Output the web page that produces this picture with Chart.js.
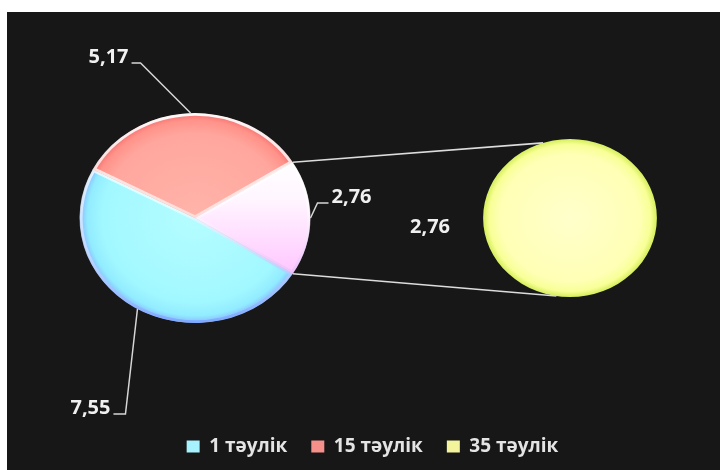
<!DOCTYPE html>
<html>
<head>
<meta charset="utf-8">
<script src="https://cdn.jsdelivr.net/npm/chart.js@4"></script>
<style>
  html, body { margin: 0; padding: 0; background: #fff; }
  #wrap { position: relative; width: 720px; height: 470px; overflow: hidden; }
  #panel { position: absolute; left: 7px; top: 12px; right: 0; bottom: 0; background: #171717; }
  canvas { position: absolute; left: 0; top: 0; }
</style>
</head>
<body>
<div id="wrap">
  <div id="panel"></div>
  <canvas id="pieMain" width="720" height="470"></canvas>
  <canvas id="pieSplit" width="720" height="470"></canvas>
</div>
<script>
const categories = ['1 тәулік', '15 тәулік', '35 тәулік'];
const mainValues = [7.55, 5.17];   // 1 тәулік, 15 тәулік
const splitValues = [2.76];        // 35 тәулік, shown in the small pie

const legendColors = ['#a6f2ff', '#f6908a', '#f4f49c'];
const rimColors = ['#7ea8ff', '#ee6262', '#d88ef2'];
const FONT = '"Open Sans", "Noto Sans", "DejaVu Sans", sans-serif';

// where each pie sits on the page; pies are drawn a bit wider than tall
const MAIN_PLACE = { x: 195, y: 218, stretch: 1.1 };
const SPLIT_PLACE = { x: 570, y: 218, stretch: 1.1 };

const otherTotal = splitValues.reduce((a, b) => a + b, 0);
const mainData = [...mainValues, otherTotal];
const total = mainData.reduce((a, b) => a + b, 0);

function fmt(v) {
    return v.toFixed(2).replace('.', ',');
}

function toPage(place, arc, angle, r) {
    return {
        x: place.x + Math.cos(angle) * r * place.stretch,
        y: place.y + Math.sin(angle) * r
    };
}

// move the pie from the chart area centre to its spot and stretch it sideways
const placePie = {
    id: 'placePie',
    beforeDatasetsDraw(chart, args, opts) {
        const arc = chart.getDatasetMeta(0).data[0];
        const ctx = chart.ctx;
        ctx.save();
        ctx.translate(opts.x, opts.y);
        ctx.scale(opts.stretch, 1);
        ctx.translate(-arc.x, -arc.y);
    },
    afterDatasetsDraw(chart) {
        chart.ctx.restore();
    }
};

function areaCentre(chart) {
    const a = chart.chartArea;
    return { cx: (a.left + a.right) / 2, cy: (a.top + a.bottom) / 2 };
}

function radial(chart, r, stops) {
    const { cx, cy } = areaCentre(chart);
    const g = chart.ctx.createRadialGradient(cx, cy, 0, cx, cy, r);
    stops.forEach(([p, col]) => g.addColorStop(p, col));
    return g;
}

function mainFill(c) {
    const chart = c.chart;
    if (!chart.chartArea) return legendColors[c.dataIndex];
    const r = 105;
    if (c.dataIndex === 0) {
        return radial(chart, r, [[0, '#b4fdff'], [0.8, '#a2f8ff'], [0.93, '#92ecff'], [1, '#8ab8ff']]);
    }
    if (c.dataIndex === 1) {
        return radial(chart, r, [[0, '#ffb4aa'], [0.8, '#ffa79e'], [0.93, '#ff938a'], [1, '#f47070']]);
    }
    const { cx, cy } = areaCentre(chart);
    const g = chart.ctx.createLinearGradient(cx, cy - r * 0.55, cx, cy + r * 0.5);
    g.addColorStop(0, '#ffffff');
    g.addColorStop(0.35, '#fff6ff');
    g.addColorStop(1, '#ffc8ff');
    return g;
}

// light bevel: white along the upper edges, fading into the slice rim colour
function mainEdge(c) {
    const chart = c.chart;
    if (!chart.chartArea) return rimColors[c.dataIndex];
    const { cx, cy } = areaCentre(chart);
    const r = 105;
    const g = chart.ctx.createLinearGradient(cx, cy - r, cx, cy + r);
    g.addColorStop(0, 'rgba(255,255,255,0.95)');
    g.addColorStop(0.45, 'rgba(255,255,255,0.6)');
    g.addColorStop(1, rimColors[c.dataIndex]);
    return g;
}

function splitFill(c) {
    const chart = c.chart;
    if (!chart.chartArea) return legendColors[2];
    return radial(chart, 79, [[0, '#ffffcc'], [0.8, '#ffffb6'], [0.93, '#f8ff96'], [1, '#d4ee5c']]);
}

// value labels with bent leader lines
const mainLabels = {
    id: 'mainLabels',
    afterDatasetsDraw(chart, args, opts) {
        const ctx = chart.ctx;
        const meta = chart.getDatasetMeta(0);
        const values = chart.data.datasets[0].data;
        ctx.save();
        ctx.strokeStyle = '#d6d6d6';
        ctx.lineWidth = 1.5;
        ctx.fillStyle = '#f0f0f0';
        ctx.font = 'bold 20px ' + FONT;
        ctx.textBaseline = 'alphabetic';
        meta.data.forEach((arc, i) => {
            const lead = opts.leaders[i];
            const mid = (arc.startAngle + arc.endAngle) / 2;
            const edge = toPage(MAIN_PLACE, arc, mid, arc.outerRadius);
            const elbow = { x: edge.x + lead.dx, y: edge.y + lead.dy };
            const end = elbow.x + lead.stub;
            ctx.beginPath();
            ctx.moveTo(edge.x, edge.y);
            ctx.lineTo(elbow.x, elbow.y);
            ctx.lineTo(end, elbow.y);
            ctx.stroke();
            ctx.textAlign = lead.stub < 0 ? 'right' : 'left';
            ctx.fillText(fmt(values[i]), end + (lead.stub < 0 ? -3 : 3), elbow.y);
        });
        ctx.restore();
    }
};

const mainChart = new Chart(document.getElementById('pieMain'), {
    type: 'pie',
    data: {
        labels: [categories[0], categories[1], 'Other'],
        datasets: [{
            data: mainData,
            backgroundColor: mainFill,
            borderColor: mainEdge,
            borderWidth: 2.5,
            borderAlign: 'inner'
        }]
    },
    options: {
        responsive: false,
        animation: false,
        radius: 105,
        rotation: 90 + (otherTotal / total) * 180,
        layout: { padding: { left: 25, bottom: 4 } },
        plugins: {
            tooltip: { enabled: false },
            legend: {
                position: 'bottom',
                onClick: null,
                labels: {
                    color: '#e4e4e4',
                    font: { family: FONT, size: 19, weight: 'bold' },
                    boxWidth: 13,
                    boxHeight: 12,
                    padding: 24,
                    generateLabels: () => categories.map((text, i) => ({
                        text,
                        fillStyle: legendColors[i],
                        strokeStyle: legendColors[i],
                        fontColor: '#e4e4e4',
                        lineWidth: 0,
                        hidden: false,
                        index: i
                    }))
                }
            },
            placePie: MAIN_PLACE,
            mainLabels: {
                leaders: [
                    { dx: -12, dy: 105, stub: -12 },
                    { dx: -50, dy: -50, stub: -9 },
                    { dx: 7, dy: -15, stub: 11 }
                ]
            }
        }
    },
    plugins: [placePie, mainLabels]
});

// lines joining the combined slice to the small pie, plus its value
const connectors = {
    id: 'connectors',
    afterDatasetsDraw(chart, args, opts) {
        const ctx = chart.ctx;
        const other = mainChart.getDatasetMeta(0).data[2];
        const a = toPage(MAIN_PLACE, other, other.startAngle, other.outerRadius);
        const b = toPage(MAIN_PLACE, other, other.endAngle, other.outerRadius);
        const arc = chart.getDatasetMeta(0).data[0];
        const top = toPage(SPLIT_PLACE, arc, opts.topAngle * Math.PI / 180, arc.outerRadius);
        const bottom = toPage(SPLIT_PLACE, arc, opts.bottomAngle * Math.PI / 180, arc.outerRadius);
        ctx.save();
        ctx.strokeStyle = '#dcdcdc';
        ctx.lineWidth = 1.6;
        ctx.beginPath();
        ctx.moveTo(a.x, a.y);
        ctx.lineTo(top.x, top.y);
        ctx.moveTo(b.x, b.y);
        ctx.lineTo(bottom.x, bottom.y);
        ctx.stroke();
        ctx.fillStyle = '#f0f0f0';
        ctx.font = 'bold 20px ' + FONT;
        ctx.textAlign = 'center';
        ctx.textBaseline = 'middle';
        ctx.fillText(fmt(chart.data.datasets[0].data[0]), SPLIT_PLACE.x + opts.labelDx, SPLIT_PLACE.y + opts.labelDy);
        ctx.restore();
    }
};

new Chart(document.getElementById('pieSplit'), {
    type: 'pie',
    data: {
        labels: [categories[2]],
        datasets: [{
            data: splitValues,
            backgroundColor: splitFill,
            borderWidth: 0
        }]
    },
    options: {
        responsive: false,
        animation: false,
        radius: 79,
        plugins: {
            tooltip: { enabled: false },
            legend: { display: false },
            placePie: SPLIT_PLACE,
            connectors: { topAngle: 252, bottomAngle: 99, labelDx: -140, labelDy: 9 }
        }
    },
    plugins: [placePie, connectors]
});
</script>
</body>
</html>
